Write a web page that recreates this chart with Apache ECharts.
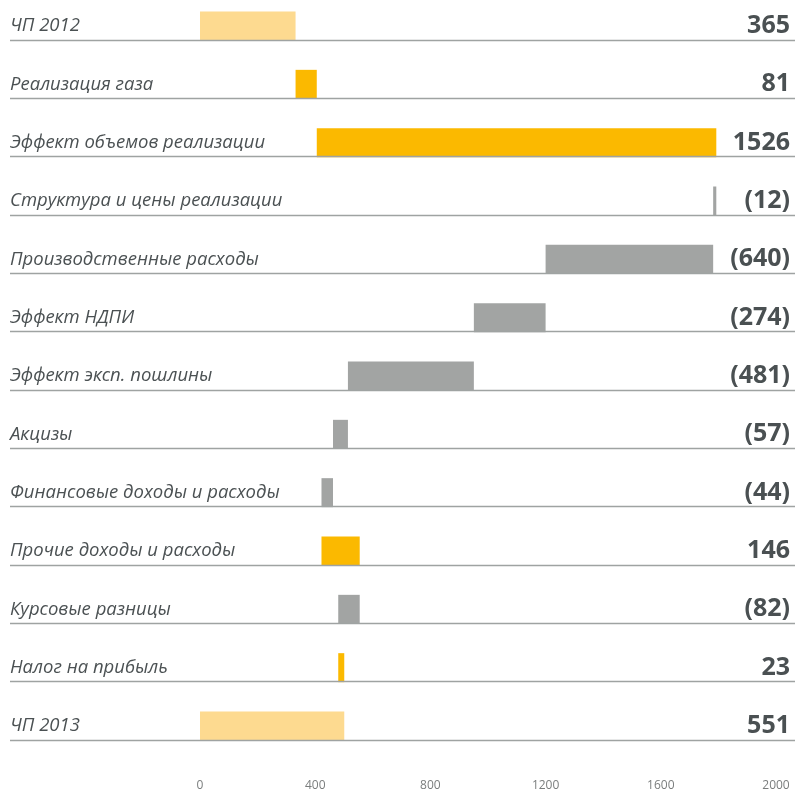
<!DOCTYPE html>
<html>
<head>
<meta charset="utf-8">
<script src="https://cdn.jsdelivr.net/npm/echarts@6/dist/echarts.min.js"></script>
<style>
  html, body { margin: 0; padding: 0; background: #ffffff; }
  #chart { width: 795px; height: 794px; }
</style>
</head>
<body>
<div id="chart"></div>
<script>
// Net profit bridge 2012 -> 2013
const categories = [
  'ЧП 2012',
  'Реализация газа',
  'Эффект объемов реализации',
  'Структура и цены реализации',
  'Производственные расходы',
  'Эффект НДПИ',
  'Эффект эксп. пошлины',
  'Акцизы',
  'Финансовые доходы и расходы',
  'Прочие доходы и расходы',
  'Курсовые разницы',
  'Налог на прибыль',
  'ЧП 2013'
];
const values = [365, 81, 1526, -12, -640, -274, -481, -57, -44, 146, -82, 23, 551];
const isTotal = [true, false, false, false, false, false, false, false, false, false, false, false, true];
const axisTicks = [0, 400, 800, 1200, 1600, 2000];

const COLOR_TOTAL = '#FDDA90';
const COLOR_UP = '#FBB900';
const COLOR_DOWN = '#A2A4A3';

// Running totals -> invisible offset + visible segment
const offsets = [];
const segments = [];
let running = 0;
values.forEach((v, i) => {
  if (isTotal[i]) {
    offsets.push(0);
    segments.push({ value: v, itemStyle: { color: COLOR_TOTAL } });
    running = v;
  } else if (v >= 0) {
    offsets.push(running);
    segments.push({ value: v, itemStyle: { color: COLOR_UP } });
    running += v;
  } else {
    running += v;
    offsets.push(running);
    segments.push({ value: -v, itemStyle: { color: COLOR_DOWN } });
  }
});
const valueLabels = values.map(v => v < 0 ? '(' + (-v) + ')' : String(v));

const chart = echarts.init(document.getElementById('chart'), null, { renderer: 'canvas' });
const BAR_H = 29;

// Rows sit on ticks (boundaryGap: false), first row at the grid top
chart.setOption({
  animation: false,
  backgroundColor: '#ffffff',
  grid: { left: 200, width: 576, top: 26, height: 700 },
  xAxis: [
    { type: 'value', min: 0, max: 2200, show: false },
    {
      type: 'value', min: axisTicks[0], max: axisTicks[axisTicks.length - 1], interval: 400,
      position: 'bottom',
      axisLine: { show: false }, axisTick: { show: false }, splitLine: { show: false },
      axisLabel: {
        color: '#7a7d7d', fontSize: 12, fontFamily: 'Open Sans', margin: 54,
        formatter: v => String(v)
      }
    }
  ],
  yAxis: [
    {
      type: 'category', data: categories, inverse: true, boundaryGap: false,
      axisLine: { show: false }, axisTick: { show: false }, splitLine: { show: false },
      axisLabel: {
        align: 'left', margin: 190, color: '#4b5153', fontSize: 18.5,
        fontStyle: 'italic', fontFamily: 'Open Sans'
      }
    },
    {
      type: 'category', data: valueLabels, inverse: true, boundaryGap: false, position: 'right',
      axisLine: { show: false }, axisTick: { show: false }, splitLine: { show: false },
      axisLabel: {
        align: 'right', margin: 14, color: '#4a5052', fontSize: 25,
        fontWeight: 'bold', fontFamily: 'Open Sans'
      }
    }
  ],
  series: [
    {
      type: 'bar', stack: 'w', xAxisIndex: 0, yAxisIndex: 0, barWidth: BAR_H, clip: false,
      itemStyle: { color: 'transparent' }, silent: true, data: offsets
    },
    {
      type: 'bar', stack: 'w', xAxisIndex: 0, yAxisIndex: 0, barWidth: BAR_H, clip: false,
      data: segments
    },
    {
      // row rule under each bar
      type: 'custom', xAxisIndex: 0, yAxisIndex: 0, z: 5, silent: true, clip: false,
      data: categories.map((c, i) => [0, i]),
      encode: { x: 0, y: 1 },
      renderItem: function (params, api) {
        const p = api.coord([0, api.value(1)]);
        const y = Math.round(p[1] + BAR_H / 2) - 0.5;
        return {
          type: 'line',
          shape: { x1: 10, y1: y, x2: 795, y2: y },
          style: { stroke: '#9fa3a2', lineWidth: 1.6 }
        };
      }
    }
  ]
});
</script>
</body>
</html>
